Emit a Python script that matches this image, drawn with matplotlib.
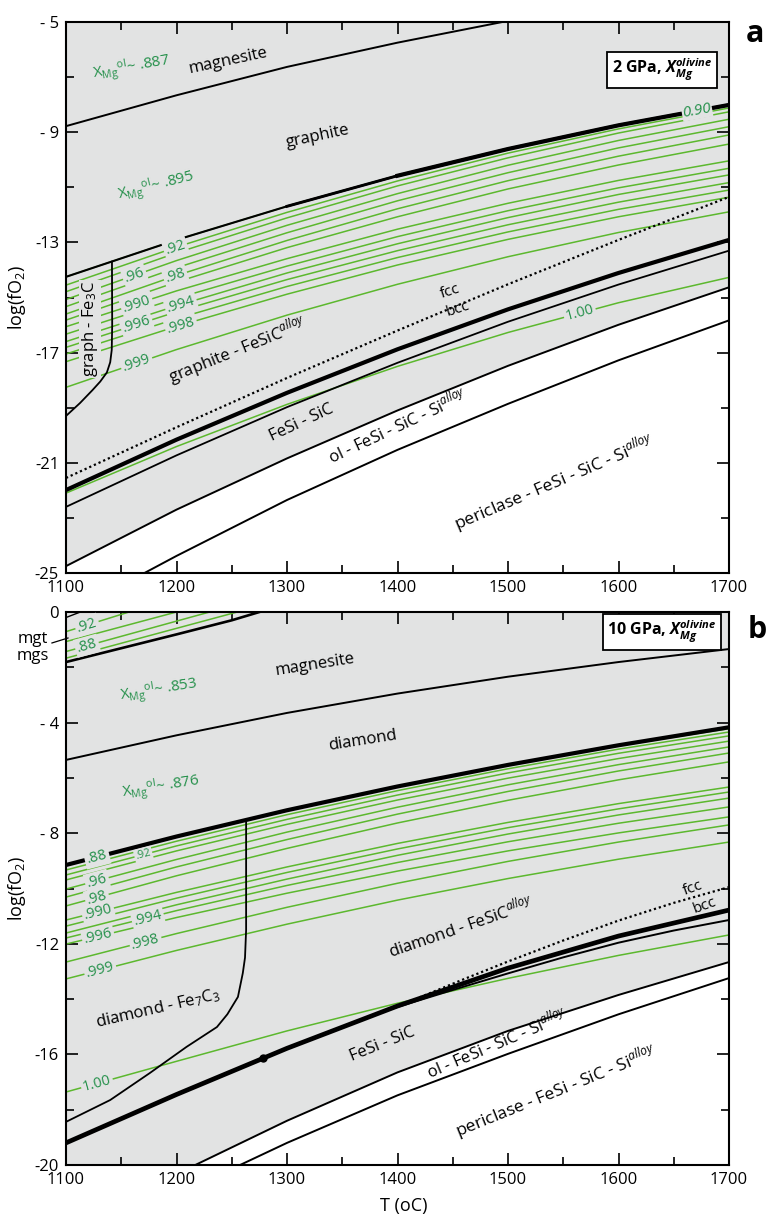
import numpy as np
import matplotlib
matplotlib.use('Agg')
import matplotlib.pyplot as plt

FONT = 'Open Sans'
plt.rcParams['font.family'] = [FONT, 'DejaVu Sans']
plt.rcParams['mathtext.fontset'] = 'custom'
plt.rcParams['mathtext.rm'] = FONT
plt.rcParams['mathtext.it'] = FONT + ':italic'
plt.rcParams['mathtext.bf'] = FONT + ':italic:bold'
plt.rcParams['mathtext.default'] = 'regular'

GRAY = '#e2e3e3'
GREEN = '#5cb82e'
LBL = '#24904a'

# ---------------- data: panel a (2 GPa) ----------------
T7 = [1100, 1200, 1300, 1400, 1500, 1600, 1700]

a_iso = [
    [-14.25, -12.91, -11.69, -10.58, -9.61, -8.75, -8.01],
    [-14.55, -13.17, -11.91, -10.77, -9.76, -8.88, -8.12],
    [-14.79, -13.38, -12.11, -10.95, -9.93, -9.03, -8.26],
    [-15.07, -13.66, -12.38, -11.23, -10.20, -9.30, -8.53],
    [-15.33, -13.92, -12.65, -11.49, -10.47, -9.57, -8.80],
    [-15.60, -14.20, -12.93, -11.78, -10.76, -9.87, -9.10],
    [-15.82, -14.44, -13.19, -12.07, -11.06, -10.19, -9.43],
    [-16.06, -14.76, -13.59, -12.52, -11.58, -10.75, -10.04],
    [-16.33, -15.03, -13.86, -12.79, -11.85, -11.02, -10.31],
    [-16.60, -15.30, -14.11, -13.05, -12.10, -11.26, -10.55],
    [-16.81, -15.52, -14.35, -13.30, -12.36, -11.54, -10.83],
    [-17.05, -15.77, -14.60, -13.55, -12.62, -11.80, -11.10],
    [-17.33, -16.05, -14.88, -13.82, -12.89, -12.07, -11.36],
    [-18.26, -16.89, -15.64, -14.52, -13.52, -12.64, -11.89],
]
a_one = [-22.10, -20.41, -18.88, -17.50, -16.27, -15.19, -14.27]
# labels: (text, line index (-1 = the 1.00 line), T)
a_iso_lab = [('.92', 1, 1199), ('.96', 3, 1162), ('.98', 5, 1199), ('.990', 7, 1164),
             ('.994', 9, 1204), ('.996', 10, 1164), ('.998', 12, 1204), ('.999', 13, 1164),
             ('1.00', -1, 1565)]

a_mgs_T = [1100, 1200, 1300, 1400, 1500]
a_mgs = [-8.78, -7.66, -6.63, -5.75, -4.96]
a_grlo = [-14.25, -12.91, -11.69, -10.58, -9.61, -8.75, -8.01]
a_fe3c_T = [1141.6, 1141.8, 1141.4, 1140.0, 1137.0, 1131.0, 1124.0, 1112.7, 1100.0]
a_fe3c = [-13.70, -16.0, -16.9, -17.35, -17.72, -18.05, -18.36, -18.83, -19.30]
a_dot = [-21.55, -19.71, -17.92, -16.20, -14.52, -12.91, -11.35]
a_thick = [-21.99, -20.16, -18.46, -16.88, -15.43, -14.11, -12.91]
a_thin = [-22.60, -20.73, -18.98, -17.37, -15.88, -14.53, -13.30]
a_ol = [-24.75, -22.70, -20.84, -19.10, -17.48, -15.99, -14.63]
a_per_T = [1171, 1200, 1300, 1400, 1500, 1600, 1700]
a_per = [-25.0, -24.38, -22.35, -20.53, -18.86, -17.28, -15.83]

# ---------------- data: panel b (10 GPa) ----------------
b_iso = [
    [-9.15, -8.12, -7.18, -6.32, -5.54, -4.84, -4.22],
    [-9.33, -8.29, -7.33, -6.46, -5.67, -4.96, -4.34],
    [-9.51, -8.46, -7.50, -6.62, -5.82, -5.11, -4.48],
    [-9.69, -8.64, -7.68, -6.80, -6.01, -5.30, -4.67],
    [-10.02, -8.95, -7.96, -7.06, -6.25, -5.52, -4.88],
    [-10.31, -9.22, -8.23, -7.31, -6.49, -5.75, -5.10],
    [-10.63, -9.54, -8.55, -7.63, -6.81, -6.07, -5.42],
    [-11.14, -10.14, -9.22, -8.37, -7.61, -6.93, -6.33],
    [-11.36, -10.35, -9.42, -8.57, -7.80, -7.12, -6.51],
    [-11.61, -10.59, -9.66, -8.80, -8.03, -7.34, -6.73],
    [-11.79, -10.80, -9.89, -9.06, -8.31, -7.64, -7.05],
    [-12.01, -11.05, -10.17, -9.37, -8.64, -7.99, -7.41],
    [-12.66, -11.63, -10.68, -9.81, -9.02, -8.32, -7.70],
    [-13.27, -12.24, -11.29, -10.42, -9.64, -8.94, -8.32],
]
b_one = [-17.36, -16.25, -15.15, -14.15, -13.25, -12.42, -11.68]
b_iso_lab = [('.96', 4, 1128), ('.98', 6, 1128), ('.990', 7, 1129), ('.994', 10, 1174),
             ('.996', 11, 1129), ('.998', 12, 1172), ('.999', 13, 1131), ('1.00', -1, 1128)]
b_small_lab = ('.92', 2, 1170)

b_top_T = [[1100, 1157], [1100, 1200], [1100, 1150, 1230], [1100, 1175, 1255]]
b_top = [[-0.71, 0.0], [-1.07, 0.0], [-1.43, -0.88, 0.0], [-1.67, -0.86, 0.0]]
b_top_lab = [('.92', 0, 1119), ('.88', 2, 1119)]
b_mgt_T = [1100, 1150, 1200, 1250, 1275]
b_mgt = [-1.81, -1.31, -0.81, -0.30, 0.0]
b_corner_T = [1100, 1113]
b_corner = [-0.20, 0.0]

b_mgs = [-5.35, -4.46, -3.65, -2.95, -2.34, -1.81, -1.34]
b_dia = [-9.15, -8.12, -7.17, -6.31, -5.53, -4.82, -4.17]
b_fe7_T = [1263, 1263, 1262, 1260, 1255.6, 1246, 1236.6, 1209, 1176, 1140, 1100]
b_fe7 = [-7.52, -11.5, -12.5, -13.06, -13.92, -14.55, -15.01, -15.73, -16.67, -17.65, -18.44]
b_dot_T = [1420, 1460, 1500, 1550, 1600, 1650, 1700]
b_dot = [-13.94, -13.28, -12.64, -11.88, -11.16, -10.52, -9.95]
b_thick = [-19.20, -17.45, -15.78, -14.25, -12.88, -11.72, -10.78]
b_point = (1278, -16.12)
b_thin_T = [1385, 1450, 1500, 1550, 1600, 1650, 1700]
b_thin = [-14.47, -13.67, -13.07, -12.49, -11.96, -11.52, -11.14]
b_ol_T = [1217, 1300, 1400, 1500, 1600, 1700]
b_ol = [-20.0, -18.40, -16.65, -15.15, -13.85, -12.66]
b_per_T = [1257.5, 1300, 1400, 1500, 1600, 1700]
b_per = [-20.0, -19.2, -17.48, -15.98, -14.55, -13.24]

a_ytick = [-25, -21, -17, -13, -9, -5]
a_yticklab = ['-25', '-21', '-17', '-13', '- 9', '- 5']
b_ytick = [-20, -16, -12, -8, -4, 0]
b_yticklab = ['-20', '-16', '-12', '- 8', '- 4', '0']
xticks = [1100, 1200, 1300, 1400, 1500, 1600, 1700]

ALLOY = '$^{\\mathit{alloy}}$'
XOL = 'X$_{Mg}$$^{ol}$~ '

fig = plt.figure(figsize=(7.66, 12.19), dpi=100)
axa = fig.add_axes([66/766, 1-573/1219, 663/766, 551/1219])
axb = fig.add_axes([66/766, 1-1165/1219, 663/766, 553/1219])


def style(ax, ylo, yhi, ytk, ytl):
    ax.set_xlim(1100, 1700)
    ax.set_ylim(ylo, yhi)
    ax.set_facecolor('white')
    ax.set_xticks(xticks)
    ax.set_xticklabels([str(t) for t in xticks])
    ax.set_xticks(np.arange(1150, 1700, 100), minor=True)
    ax.set_yticks(ytk)
    ax.set_yticklabels(ytl)
    ax.set_yticks(np.arange(ylo + 2, yhi, 4), minor=True)
    ax.tick_params(which='both', direction='in', top=True, right=True, width=1.2,
                   labelsize=12)
    ax.tick_params(which='major', length=8.5, pad=5)
    ax.tick_params(which='minor', length=5.5)
    for s in ax.spines.values():
        s.set_linewidth(1.5)
    ax.set_ylabel('log(fO$_2$)', fontsize=13)
    ax.yaxis.set_label_coords(-0.058, 0.5)


style(axa, -25, -5, a_ytick, a_yticklab)
style(axb, -20, 0, b_ytick, b_yticklab)


def gray_region(ax, Tb, yb):
    x0, x1 = ax.get_xlim()
    y0, y1 = ax.get_ylim()
    xs = [x0]
    ys = [y1]
    if Tb[0] > x0:
        xs.append(x0); ys.append(y0)
    xs += list(Tb); ys += list(yb)
    xs.append(x1); ys.append(y1)
    ax.fill(xs, ys, color=GRAY, lw=0, zorder=0)


def on_line(ax, T, Tarr, yarr, text, size=10.5, color=LBL, style='normal', pad=0.12):
    y = np.interp(T, Tarr, yarr)
    y2 = np.interp(T + 3, Tarr, yarr)
    p1 = ax.transData.transform((T, y))
    p2 = ax.transData.transform((T + 3, y2))
    ang = np.degrees(np.arctan2(p2[1] - p1[1], p2[0] - p1[0]))
    ax.text(T, y, text, rotation=ang, rotation_mode='anchor', ha='center', va='center',
            fontsize=size, color=color, style=style, zorder=6,
            bbox=dict(boxstyle='square,pad=%g' % pad, fc=GRAY, ec='none'))


def txt(ax, T, y, s, rot, size=12, color='black', ha='center', **kw):
    ax.text(T, y, s, rotation=rot, rotation_mode='anchor', ha=ha, va='center',
            fontsize=size, color=color, zorder=7, **kw)


# ================= panel a =================
ax = axa
gray_region(ax, T7, a_ol)
for ys in a_iso:
    ax.plot(T7, ys, color=GREEN, lw=1.1, zorder=2)
ax.plot(T7, a_one, color=GREEN, lw=1.1, zorder=2)
ax.plot(a_mgs_T, a_mgs, color='black', lw=1.4, zorder=3)
ax.plot(T7, a_grlo, color='black', lw=1.5, zorder=3)
ax.plot(T7[2:], a_grlo[2:], color='black', lw=2.1, zorder=3)
ax.plot(T7[3:], a_grlo[3:], color='black', lw=3.0, zorder=3)
ax.plot(a_fe3c_T, a_fe3c, color='black', lw=1.3, zorder=3)
ax.plot(T7, a_dot, color='black', lw=1.6, ls=(0, (1, 1.3)), zorder=3)
ax.plot(T7, a_thick, color='black', lw=3.0, zorder=3)
ax.plot(T7, a_thin, color='black', lw=1.3, zorder=3)
ax.plot(T7, a_ol, color='black', lw=1.4, zorder=3)
ax.plot(a_per_T, a_per, color='black', lw=1.4, zorder=3)

for s, i, T in a_iso_lab:
    ys = a_one if i < 0 else a_iso[i]
    on_line(ax, T, T7, ys, s)
on_line(ax, 1671, T7, a_grlo, '0.90', size=11, style='italic', pad=0.05)

txt(ax, 1247, -6.40, 'magnesite', 12)
txt(ax, 1328, -9.17, 'graphite', 12)
txt(ax, 1124, -6.90, XOL + '.887', 10, size=11, color=LBL, ha='left')
txt(ax, 1147, -11.30, XOL + '.895', 14, size=11, color=LBL, ha='left')
txt(ax, 1255, -16.9, 'graphite - FeSiC' + ALLOY, 22)
txt(ax, 1313, -19.56, 'FeSi - SiC', 25)
txt(ax, 1400, -19.63, 'ol - FeSi - SiC - Si' + ALLOY, 25)
txt(ax, 1542, -21.73, 'periclase - FeSi - SiC - Si' + ALLOY, 23, size=12.5)
txt(ax, 1447.5, -14.80, 'fcc', 18, size=11)
txt(ax, 1454.8, -15.42, 'bcc', 18, size=11)
ax.text(1122, -16.15, 'graph - Fe$_3$C', rotation=90, ha='center', va='center',
        fontsize=12, zorder=7,
        bbox=dict(boxstyle='square,pad=0.05', fc=GRAY, ec='none'))
ax.text(0.899, 0.913, '2 GPa, $\\mathbf{X_{Mg}^{olivine}}$', transform=ax.transAxes,
        ha='center', va='center', fontsize=11.5, fontweight='bold', zorder=8,
        bbox=dict(boxstyle='square,pad=0.3', fc='white', ec='black', lw=1.3))

# ================= panel b =================
ax = axb
gray_region(ax, b_ol_T, b_ol)
for ys in b_iso:
    ax.plot(T7, ys, color=GREEN, lw=1.1, zorder=2)
ax.plot(T7, b_one, color=GREEN, lw=1.1, zorder=2)
for Ts, ys in zip(b_top_T, b_top):
    ax.plot(Ts, ys, color=GREEN, lw=1.1, zorder=2)
ax.plot(b_mgt_T, b_mgt, color='black', lw=1.9, zorder=3)
ax.plot(b_corner_T, b_corner, color='black', lw=1.0, zorder=3)
ax.plot(T7, b_mgs, color='black', lw=1.4, zorder=3)
ax.plot(T7, b_dia, color='black', lw=3.0, zorder=3)
ax.plot(b_fe7_T, b_fe7, color='black', lw=1.3, zorder=3)
ax.plot(b_dot_T, b_dot, color='black', lw=1.6, ls=(0, (1, 1.3)), zorder=3)
ax.plot(T7, b_thick, color='black', lw=3.4, zorder=3)
ax.plot(b_thin_T, b_thin, color='black', lw=1.4, zorder=3)
ax.plot(b_ol_T, b_ol, color='black', lw=1.4, zorder=3)
ax.plot(b_per_T, b_per, color='black', lw=1.4, zorder=3)
ax.plot([b_point[0]], [b_point[1]], 'o', color='black', ms=5, zorder=4)

for s, i, T in b_iso_lab:
    ys = b_one if i < 0 else b_iso[i]
    on_line(ax, T, T7, ys, s)
on_line(ax, 1128, T7, b_dia, '.88', pad=0.15)
s, i, T = b_small_lab
on_line(ax, T, T7, b_iso[i], s, size=8)
for s, i, T in b_top_lab:
    on_line(ax, T, b_top_T[i], b_top[i], s)

txt(ax, 1325, -1.90, 'magnesite', 9)
txt(ax, 1368, -4.67, 'diamond', 9)
txt(ax, 1149, -3.07, XOL + '.853', 9, size=11, color=LBL, ha='left')
txt(ax, 1151, -6.55, XOL + '.876', 9, size=11, color=LBL, ha='left')
txt(ax, 1456.6, -11.36, 'diamond - FeSiC' + ALLOY, 19)
txt(ax, 1183, -14.33, 'diamond - Fe$_7$C$_3$', 13)
txt(ax, 1386, -15.62, 'FeSi - SiC', 22)
txt(ax, 1490, -15.59, 'ol - FeSi - SiC - Si' + ALLOY, 23)
txt(ax, 1544, -17.36, 'periclase - FeSi - SiC - Si' + ALLOY, 22, size=12.5)
txt(ax, 1667, -9.98, 'fcc', 20, size=11)
txt(ax, 1678, -10.62, 'bcc', 20, size=11)
ax.text(1070, -0.98, 'mgt', ha='center', va='center', fontsize=12, clip_on=False)
ax.text(1070, -1.59, 'mgs', ha='center', va='center', fontsize=12, clip_on=False)
ax.plot([1087.3, 1101.8], [-1.12, -0.94], color='black', lw=0.9, clip_on=False, zorder=5)
ax.text(0.899, 0.9638, '10 GPa, $\\mathbf{X_{Mg}^{olivine}}$', transform=ax.transAxes,
        ha='center', va='center', fontsize=11.5, fontweight='bold', zorder=8,
        bbox=dict(boxstyle='square,pad=0.3', fc='white', ec='black', lw=1.3))
ax.set_xlabel('T (oC)', fontsize=13)
ax.xaxis.set_label_coords(0.51, -0.058)

fig.text(755/766, 1-34/1219, 'a', fontsize=22, fontweight='bold', ha='center', va='center')
fig.text(757/766, 1-630/1219, 'b', fontsize=22, fontweight='bold', ha='center', va='center')

fig.savefig('out.png', dpi=100)
